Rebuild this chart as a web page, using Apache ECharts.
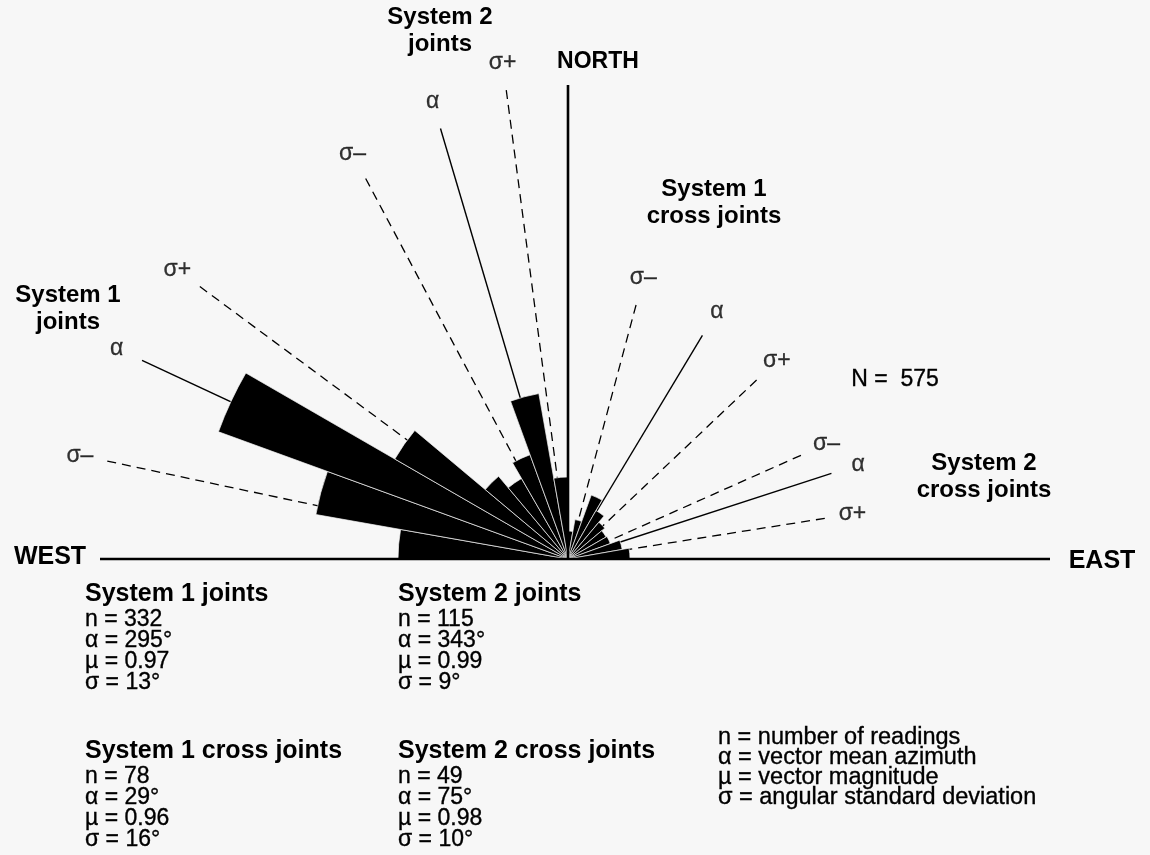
<!DOCTYPE html>
<html>
<head>
<meta charset="utf-8">
<script src="https://cdn.jsdelivr.net/npm/echarts@6/dist/echarts.min.js"></script>
<style>
  html, body { margin: 0; padding: 0; background: #f7f7f7; }
  #chart { width: 1150px; height: 855px; }
</style>
</head>
<body>
<div id="chart"></div>
<script>
// 10 degree azimuth classes, relative length of each petal
const binLabels = []
for (let a = 0; a < 360; a += 10) binLabels.push(a + '-' + (a + 10))
const eastBins = [2.8, 4.0, 6.8, 5.6, 4.8, 4.4, 4.5, 5.5, 6.2]        // 0-90
const westBins = [17.0, 25.6, 37.2, 20.0, 10.8, 9.3, 11.1, 16.8, 8.2]  // 270-360

// joint sets
const setNames = ['System 1 joints', 'System 2 joints', 'System 1 cross joints', 'System 2 cross joints']
const nValues = [332, 115, 78, 49]
const alphaValues = [295, 343, 29, 75]
const muValues = [0.97, 0.99, 0.96, 0.98]
const sigmaValues = [13, 9, 16, 10]
// rays as drawn on the plot (sigma-, alpha, sigma+): azimuth and length
const rayAzimuths = [[282, 295, 306.5], [332, 343.5, 352.5], [15, 31, 46.5], [66, 72, 81]]
const rayLengths = [[47.1, 47.0, 45.8], [43.1, 44.9, 47.3], [26.3, 26.1, 26.0], [25.5, 27.7, 26.0]]
const rayNames = ['σ–', 'α', 'σ+']

const FONT = '"Liberation Sans", Arial, Helvetica, sans-serif'
const BG = '#f7f7f7'

let roseData = binLabels.map((v, i) => {
  if (i < 9) return eastBins[i]
  if (i >= 27) return westBins[i - 27]
  return '-'
})

let series = [{
  type: 'bar',
  coordinateSystem: 'polar',
  polarIndex: 0,
  data: roseData,
  barCategoryGap: '0%',
  itemStyle: { color: '#000', borderColor: BG, borderWidth: 0.7 },
  silent: true,
  z: 3
}]

let labelData = []
rayAzimuths.forEach((az, s) => {
  az.forEach((ang, k) => {
    series.push({
      type: 'line',
      coordinateSystem: 'polar',
      polarIndex: 1,
      symbol: 'none',
      silent: true,
      z: 2,
      data: [[rayLengths[s][k], ang], [0, ang]],
      lineStyle: { color: '#000', width: k === 1 ? 1.4 : 1.3, type: k === 1 ? 'solid' : [9, 6] }
    })
    labelData.push({ name: rayNames[k], value: [rayLengths[s][k] + 2.8, ang] })
  })
})

// compass lines
series.push({
  type: 'line', coordinateSystem: 'polar', polarIndex: 1, symbol: 'none', silent: true, z: 4,
  data: [[46.8, 270], [0, 270], [48.2, 90]],
  lineStyle: { color: '#000', width: 2.6 }
})
series.push({
  type: 'line', coordinateSystem: 'polar', polarIndex: 1, symbol: 'none', silent: true, z: 4,
  data: [[0, 0], [47.4, 0]],
  lineStyle: { color: '#000', width: 2.6 }
})
series.push({
  type: 'scatter', coordinateSystem: 'polar', polarIndex: 1, silent: true, z: 5,
  symbolSize: 0.1,
  itemStyle: { color: 'rgba(0,0,0,0)' },
  label: {
    show: true, position: 'inside', formatter: '{b}', fontSize: 23, color: '#000', fontFamily: FONT,
    textBorderColor: '#000', textBorderWidth: 0.3
  },
  data: labelData
})

function txt (x, y, text, size, bold, align, lh) {
  return {
    type: 'text', x, y, silent: true,
    style: {
      text, fill: '#000', fontSize: size, fontWeight: bold ? 'bold' : 'normal', fontFamily: FONT,
      align: align || 'center', verticalAlign: 'middle', lineHeight: lh || 27,
      stroke: bold ? null : '#000', lineWidth: bold ? 0 : 0.35
    }
  }
}

let graphics = [
  txt(440, 31, 'System 2\njoints', 24, true),
  txt(68, 309, 'System 1\njoints', 24, true),
  txt(714, 203, 'System 1\ncross joints', 24, true),
  txt(984, 477, 'System 2\ncross joints', 24, true),
  txt(598, 62, 'NORTH', 23, true),
  txt(50, 557, 'WEST', 25, true),
  txt(1102, 561, 'EAST', 25, true),
  txt(895, 380, 'N =  575', 23, false)
]

// statistics blocks
const blockX = [85, 398, 85, 398]
const blockY = [594, 594, 751, 751]
setNames.forEach((name, s) => {
  graphics.push(txt(blockX[s], blockY[s], name, 25, true, 'left'))
  let rows = ['n = ' + nValues[s], 'α = ' + alphaValues[s] + '°', 'µ = ' + muValues[s].toFixed(2), 'σ = ' + sigmaValues[s] + '°']
  graphics.push(txt(blockX[s], blockY[s] + 26 + 1.5 * 21, rows.join('\n'), 23, false, 'left', 21))
})

// legend
graphics.push(txt(718, 767.5, [
  'n = number of readings',
  'α = vector mean azimuth',
  'µ = vector magnitude',
  'σ = angular standard deviation'
].join('\n'), 23.5, false, 'left', 19.8))

let myChart = echarts.init(document.getElementById('chart'))
myChart.setOption({
  backgroundColor: BG,
  animation: false,
  polar: [
    { center: [568, 559], radius: 550 },
    { center: [568, 559], radius: 550 }
  ],
  angleAxis: [{
    polarIndex: 0,
    type: 'category',
    data: binLabels,
    startAngle: 90,
    clockwise: true,
    boundaryGap: true,
    axisLine: { show: false },
    axisTick: { show: false },
    axisLabel: { show: false },
    splitLine: { show: false }
  }, {
    polarIndex: 1,
    type: 'value',
    min: 0,
    max: 360,
    startAngle: 90,
    clockwise: true,
    axisLine: { show: false },
    axisTick: { show: false },
    axisLabel: { show: false },
    splitLine: { show: false }
  }],
  radiusAxis: [{
    polarIndex: 0, type: 'value', min: 0, max: 55,
    axisLine: { show: false }, axisTick: { show: false }, axisLabel: { show: false }, splitLine: { show: false }
  }, {
    polarIndex: 1, type: 'value', min: 0, max: 55,
    axisLine: { show: false }, axisTick: { show: false }, axisLabel: { show: false }, splitLine: { show: false }
  }],
  series,
  graphic: graphics
})
</script>
</body>
</html>
